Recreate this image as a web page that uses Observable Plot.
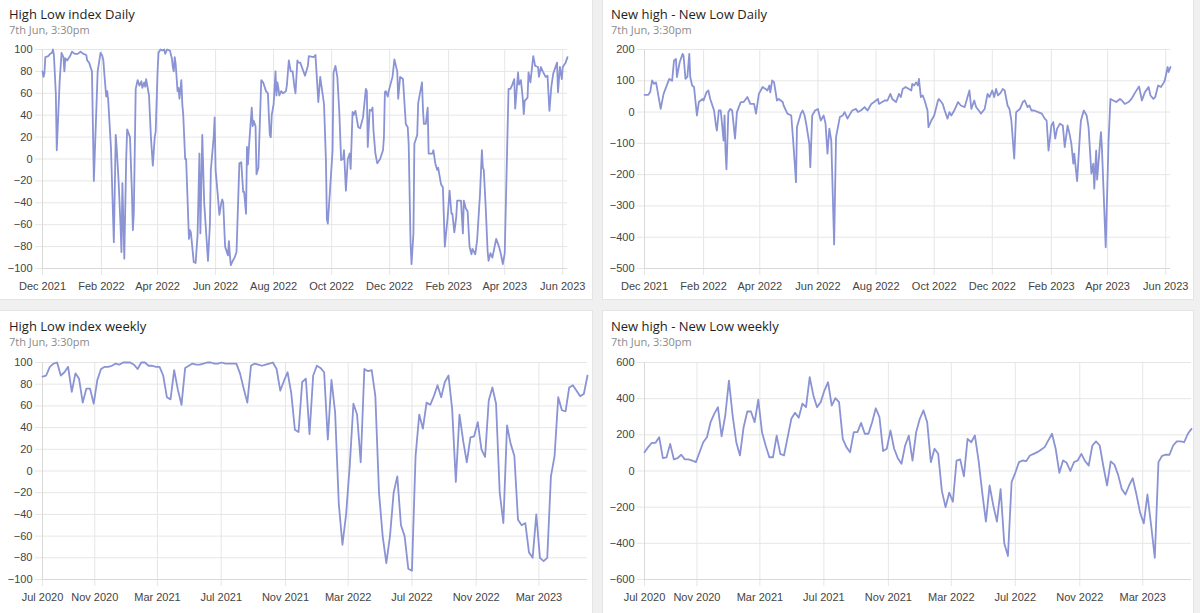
<!DOCTYPE html>
<html><head><meta charset="utf-8">
<script src="https://cdn.jsdelivr.net/npm/d3@7"></script>
<script src="https://cdn.jsdelivr.net/npm/@observablehq/plot@0.6"></script>
<style>
html,body{margin:0;padding:0;}
body{width:1200px;height:613px;overflow:hidden;background:#f0f0f0;position:relative;}
.card{position:absolute;background:#fff;border:1px solid #e4e4e4;box-sizing:border-box;}
.title{position:absolute;font-family:"Open Sans",sans-serif;font-size:13px;line-height:18px;color:#1e1e1e;white-space:nowrap;}
.sub{position:absolute;font-family:"Open Sans",sans-serif;font-size:11px;line-height:14px;color:#8a8a8a;white-space:nowrap;}
.chart{position:absolute;}
.chart svg{display:block;}
</style></head><body>
<div class="card" style="left:-1px;top:-3px;width:594px;height:303px"></div>
<div class="card" style="left:602px;top:-3px;width:592px;height:303px"></div>
<div class="card" style="left:-1px;top:310px;width:594px;height:320px"></div>
<div class="card" style="left:602px;top:310px;width:592px;height:320px"></div>

<div class="title" style="left:9px;top:5px">High Low index Daily</div>
<div class="sub" style="left:9px;top:23px">7th Jun, 3:30pm</div>
<div class="title" style="left:611px;top:5px">New high - New Low Daily</div>
<div class="sub" style="left:611px;top:23px">7th Jun, 3:30pm</div>
<div class="title" style="left:9px;top:317px">High Low index weekly</div>
<div class="sub" style="left:9px;top:335px">7th Jun, 3:30pm</div>
<div class="title" style="left:611px;top:317px">New high - New Low weekly</div>
<div class="sub" style="left:611px;top:335px">7th Jun, 3:30pm</div>

<div id="c1" class="chart" style="left:0px;top:39px"></div>
<div id="c2" class="chart" style="left:602px;top:39px"></div>
<div id="c3" class="chart" style="left:0px;top:352px"></div>
<div id="c4" class="chart" style="left:602px;top:352px"></div>

<script>
// ---------------- data ----------------
const hlDaily = [
["2021-12-01",80],["2021-12-02",75],["2021-12-03",78],["2021-12-04",93],["2021-12-07",94],["2021-12-09",96],["2021-12-11",97],["2021-12-12",100],["2021-12-13",95],["2021-12-15",60],["2021-12-16",8],["2021-12-19",70],["2021-12-21",97],["2021-12-23",93],["2021-12-24",80],["2021-12-25",92],["2021-12-27",90],["2021-12-30",94],
["2022-01-01",98],["2022-01-04",96],["2022-01-07",96],["2022-01-10",98],["2022-01-13",96],["2022-01-16",95],["2022-01-17",90],["2022-01-19",88],["2022-01-22",80],["2022-01-24",-20],["2022-01-28",80],["2022-01-31",97],
["2022-02-02",94],["2022-02-03",90],["2022-02-04",78],["2022-02-06",57],["2022-02-07",62],["2022-02-08",55],["2022-02-11",10],["2022-02-14",-76],["2022-02-16",22],["2022-02-17",10],["2022-02-19",-20],["2022-02-21",-60],["2022-02-22",-85],["2022-02-23",-22],["2022-02-25",-91],["2022-02-27",0],["2022-02-28",27],
["2022-03-03",20],["2022-03-05",-30],["2022-03-06",-65],["2022-03-07",-50],["2022-03-09",64],["2022-03-11",72],["2022-03-13",67],["2022-03-15",71],["2022-03-16",65],["2022-03-18",70],["2022-03-19",66],["2022-03-20",73],["2022-03-23",58],["2022-03-25",20],["2022-03-27",-6],["2022-03-29",20],["2022-03-30",25],
["2022-04-01",80],["2022-04-02",97],["2022-04-04",100],["2022-04-06",99],["2022-04-08",100],["2022-04-09",96],["2022-04-11",100],["2022-04-14",99],["2022-04-16",92],["2022-04-17",84],["2022-04-18",80],["2022-04-19",93],["2022-04-20",87],["2022-04-22",62],["2022-04-23",65],["2022-04-24",55],["2022-04-26",72],["2022-04-27",50],["2022-04-28",40],["2022-04-30",0],
["2022-05-01",0],["2022-05-04",-73],["2022-05-05",-65],["2022-05-06",-67],["2022-05-08",-85],["2022-05-09",-94],["2022-05-11",-95],["2022-05-13",-70],["2022-05-15",5],["2022-05-16",-68],["2022-05-18",22],["2022-05-20",-40],["2022-05-24",-93],["2022-05-26",-60],["2022-05-27",-10],["2022-05-28",0],["2022-05-30",20],["2022-05-31",38],
["2022-06-01",-10],["2022-06-03",-30],["2022-06-05",-51],["2022-06-07",-40],["2022-06-08",-37],["2022-06-09",-40],["2022-06-11",-80],["2022-06-14",-88],["2022-06-15",-75],["2022-06-16",-88],["2022-06-17",-97],["2022-06-19",-93],["2022-06-21",-90],["2022-06-23",-85],["2022-06-26",-4],["2022-06-28",-3],["2022-06-30",-30],
["2022-07-01",-30],["2022-07-03",-50],["2022-07-04",11],["2022-07-05",-5],["2022-07-06",10],["2022-07-09",47],["2022-07-10",30],["2022-07-11",35],["2022-07-13",30],["2022-07-14",-14],["2022-07-16",-8],["2022-07-19",72],["2022-07-21",70],["2022-07-24",62],["2022-07-26",60],["2022-07-27",40],["2022-07-28",22],["2022-07-29",20],["2022-07-30",40],
["2022-08-01",50],["2022-08-03",80],["2022-08-04",58],["2022-08-05",70],["2022-08-06",65],["2022-08-07",58],["2022-08-09",62],["2022-08-11",60],["2022-08-14",62],["2022-08-15",68],["2022-08-17",90],["2022-08-19",80],["2022-08-21",80],["2022-08-23",65],["2022-08-24",60],["2022-08-26",90],["2022-08-27",88],["2022-08-29",88],
["2022-09-03",76],["2022-09-06",85],["2022-09-07",94],["2022-09-12",93],["2022-09-14",95],["2022-09-17",52],["2022-09-19",75],["2022-09-23",50],["2022-09-25",-1],["2022-09-26",-55],["2022-09-27",-59],
["2022-10-02",8],["2022-10-03",79],["2022-10-05",85],["2022-10-07",75],["2022-10-09",44],["2022-10-11",-1],["2022-10-13",0],["2022-10-14",8],["2022-10-16",-29],["2022-10-18",0],["2022-10-20",5],["2022-10-21",-9],["2022-10-23",43],["2022-10-24",40],["2022-10-26",44],["2022-10-29",29],["2022-10-31",28],
["2022-11-03",38],["2022-11-06",64],["2022-11-07",62],["2022-11-08",11],["2022-11-10",45],["2022-11-12",44],["2022-11-13",47],["2022-11-14",26],["2022-11-16",5],["2022-11-18",-4],["2022-11-21",0],["2022-11-24",8],["2022-11-25",20],["2022-11-26",61],["2022-11-27",62],["2022-11-29",57],["2022-11-30",62],
["2022-12-04",75],["2022-12-06",91],["2022-12-09",80],["2022-12-10",55],["2022-12-12",75],["2022-12-15",73],["2022-12-18",32],["2022-12-20",29],["2022-12-21",14],["2022-12-23",-77],["2022-12-24",-96],["2022-12-26",-68],["2022-12-27",14],["2022-12-30",22],["2022-12-31",51],
["2023-01-04",70],["2023-01-05",46],["2023-01-06",32],["2023-01-08",32],["2023-01-10",47],["2023-01-11",5],["2023-01-15",5],["2023-01-16",8],["2023-01-18",-4],["2023-01-20",-10],["2023-01-21",-8],["2023-01-24",-23],["2023-01-26",-26],["2023-01-27",-53],["2023-01-28",-80],["2023-01-31",-53],
["2023-02-02",-29],["2023-02-04",-50],["2023-02-05",-50],["2023-02-07",-67],["2023-02-09",-53],["2023-02-10",-38],["2023-02-14",-38],["2023-02-16",-68],["2023-02-17",-38],["2023-02-19",-45],["2023-02-21",-48],["2023-02-23",-80],["2023-02-25",-87],["2023-02-26",-82],
["2023-03-01",-87],["2023-03-03",-74],["2023-03-06",-32],["2023-03-08",8],["2023-03-09",-8],["2023-03-10",-10],["2023-03-12",-44],["2023-03-14",-84],["2023-03-15",-93],["2023-03-17",-86],["2023-03-19",-90],["2023-03-20",-86],["2023-03-23",-73],["2023-03-26",-80],["2023-03-28",-87],["2023-03-30",-96],
["2023-04-01",-86],["2023-04-05",64],["2023-04-07",64],["2023-04-09",68],["2023-04-11",73],["2023-04-12",46],["2023-04-15",79],["2023-04-16",68],["2023-04-18",72],["2023-04-20",55],["2023-04-21",41],["2023-04-22",53],["2023-04-25",56],["2023-04-26",79],["2023-04-28",70],
["2023-05-01",94],["2023-05-03",85],["2023-05-06",84],["2023-05-07",75],["2023-05-09",84],["2023-05-11",80],["2023-05-14",75],["2023-05-16",76],["2023-05-18",44],["2023-05-20",66],["2023-05-22",78],["2023-05-26",88],["2023-05-27",61],["2023-05-29",84],["2023-05-31",73],
["2023-06-01",84],["2023-06-04",88],["2023-06-06",93]
];

const nhnlDaily = [
["2021-12-01",55],["2021-12-05",55],["2021-12-07",64],["2021-12-09",101],["2021-12-11",90],["2021-12-13",95],["2021-12-14",80],["2021-12-18",10],["2021-12-21",58],["2021-12-23",74],["2021-12-27",106],["2021-12-30",100],
["2022-01-01",165],["2022-01-03",170],["2022-01-04",112],["2022-01-07",160],["2022-01-10",186],["2022-01-11",180],["2022-01-13",106],["2022-01-15",113],["2022-01-17",186],["2022-01-18",112],["2022-01-20",85],["2022-01-22",80],["2022-01-25",-11],["2022-01-27",32],["2022-01-31",42],
["2022-02-01",37],["2022-02-04",63],["2022-02-06",69],["2022-02-08",42],["2022-02-12",5],["2022-02-14",-43],["2022-02-15",-59],["2022-02-17",5],["2022-02-19",5],["2022-02-22",-91],["2022-02-23",-11],["2022-02-24",-123],["2022-02-25",-183],["2022-02-27",0],
["2022-03-01",10],["2022-03-03",5],["2022-03-06",-85],["2022-03-08",0],["2022-03-12",32],["2022-03-15",32],["2022-03-19",48],["2022-03-22",26],["2022-03-26",26],["2022-03-28",-5],["2022-03-31",58],
["2022-04-04",80],["2022-04-07",74],["2022-04-09",69],["2022-04-11",85],["2022-04-12",63],["2022-04-14",101],["2022-04-16",95],["2022-04-19",37],["2022-04-21",42],["2022-04-25",32],["2022-04-26",21],["2022-04-30",-5],
["2022-05-04",-11],["2022-05-06",-91],["2022-05-09",-224],["2022-05-10",-48],["2022-05-14",-5],["2022-05-16",5],["2022-05-18",-11],["2022-05-20",-43],["2022-05-23",-102],["2022-05-24",-176],["2022-05-26",-11],["2022-05-29",5],
["2022-06-01",10],["2022-06-04",-27],["2022-06-07",-11],["2022-06-09",-37],["2022-06-11",-133],["2022-06-13",-53],["2022-06-15",-91],["2022-06-18",-423],["2022-06-20",-80],["2022-06-22",-48],["2022-06-24",-16],["2022-06-27",-11],["2022-06-29",0],
["2022-07-02",-21],["2022-07-05",-5],["2022-07-07",5],["2022-07-11",10],["2022-07-13",0],["2022-07-16",5],["2022-07-20",16],["2022-07-23",5],["2022-07-27",26],["2022-07-30",32],
["2022-08-03",42],["2022-08-04",26],["2022-08-10",37],["2022-08-13",37],["2022-08-16",58],["2022-08-18",42],["2022-08-22",32],["2022-08-25",58],["2022-08-27",48],["2022-08-29",74],
["2022-09-01",80],["2022-09-07",69],["2022-09-08",90],["2022-09-10",85],["2022-09-12",95],["2022-09-14",85],["2022-09-15",106],["2022-09-17",48],["2022-09-19",53],["2022-09-21",37],["2022-09-24",5],["2022-09-25",-48],["2022-09-28",-27],
["2022-10-01",-11],["2022-10-05",37],["2022-10-06",42],["2022-10-10",26],["2022-10-12",5],["2022-10-15",-21],["2022-10-17",0],["2022-10-19",-11],["2022-10-22",5],["2022-10-26",32],["2022-10-29",21],
["2022-11-02",16],["2022-11-05",48],["2022-11-07",69],["2022-11-09",10],["2022-11-12",37],["2022-11-14",16],["2022-11-18",0],["2022-11-19",-5],["2022-11-23",10],["2022-11-26",58],["2022-11-28",48],
["2022-12-01",69],["2022-12-03",48],["2022-12-05",74],["2022-12-07",53],["2022-12-10",63],["2022-12-12",74],["2022-12-14",69],["2022-12-17",21],["2022-12-19",10],["2022-12-21",-27],["2022-12-24",-149],["2022-12-26",0],["2022-12-30",10],
["2023-01-02",32],["2023-01-04",37],["2023-01-07",16],["2023-01-09",21],["2023-01-11",5],["2023-01-14",5],["2023-01-18",0],["2023-01-22",-5],["2023-01-25",-21],["2023-01-27",-27],["2023-01-29",-123],
["2023-02-01",-43],["2023-02-03",-32],["2023-02-05",-85],["2023-02-07",-53],["2023-02-10",-37],["2023-02-13",-43],["2023-02-15",-112],["2023-02-18",-43],["2023-02-20",-69],["2023-02-22",-102],["2023-02-24",-165],["2023-02-25",-133],["2023-02-28",-221],
["2023-03-03",-69],["2023-03-04",-27],["2023-03-07",5],["2023-03-10",-11],["2023-03-12",-48],["2023-03-15",-197],["2023-03-17",-165],["2023-03-18",-245],["2023-03-20",-123],["2023-03-21",-216],["2023-03-25",-64],["2023-03-26",-112],["2023-03-30",-432],
["2023-04-02",-91],["2023-04-04",42],["2023-04-07",37],["2023-04-10",32],["2023-04-14",42],["2023-04-16",37],["2023-04-19",26],["2023-04-23",32],["2023-04-26",42],["2023-04-30",63],
["2023-05-04",82],["2023-05-07",37],["2023-05-10",63],["2023-05-14",80],["2023-05-16",53],["2023-05-19",42],["2023-05-21",48],["2023-05-24",85],["2023-05-27",80],["2023-05-30",95],["2023-05-31",101],
["2023-06-03",144],["2023-06-04",128],["2023-06-06",144]
];

const weeklyDates = [
"2020-07-24","2020-07-31","2020-08-07","2020-08-14","2020-08-21","2020-08-28","2020-09-04","2020-09-11","2020-09-18","2020-09-25",
"2020-10-02","2020-10-09","2020-10-16","2020-10-23","2020-10-30","2020-11-06","2020-11-13","2020-11-20","2020-11-27","2020-12-04",
"2020-12-11","2020-12-18","2020-12-25","2021-01-01","2021-01-08","2021-01-15","2021-01-22","2021-01-29","2021-02-05","2021-02-12",
"2021-02-19","2021-02-26","2021-03-05","2021-03-12","2021-03-19","2021-03-26","2021-04-02","2021-04-09","2021-04-16","2021-04-23",
"2021-04-30","2021-05-07","2021-05-14","2021-05-21","2021-05-28","2021-06-04","2021-06-11","2021-06-18","2021-06-25","2021-07-02",
"2021-07-09","2021-07-16","2021-07-23","2021-07-30","2021-08-06","2021-08-13","2021-08-20","2021-08-27","2021-09-03","2021-09-10",
"2021-09-17","2021-09-24","2021-10-01","2021-10-08","2021-10-15","2021-10-22","2021-10-29","2021-11-05","2021-11-12","2021-11-19",
"2021-11-26","2021-12-03","2021-12-10","2021-12-17","2021-12-24","2021-12-31","2022-01-07","2022-01-14","2022-01-21","2022-01-28",
"2022-02-04","2022-02-11","2022-02-18","2022-02-25","2022-03-04","2022-03-11","2022-03-18","2022-03-25","2022-04-01","2022-04-08",
"2022-04-15","2022-04-22","2022-04-29","2022-05-06","2022-05-13","2022-05-20","2022-05-27","2022-06-03","2022-06-10","2022-06-17",
"2022-06-24","2022-07-01","2022-07-08","2022-07-15","2022-07-22","2022-07-29","2022-08-05","2022-08-12","2022-08-19","2022-08-26",
"2022-09-02","2022-09-09","2022-09-16","2022-09-23","2022-09-30","2022-10-07","2022-10-14","2022-10-21","2022-10-28","2022-11-04",
"2022-11-11","2022-11-18","2022-11-25","2022-12-02","2022-12-09","2022-12-16","2022-12-23","2022-12-30","2023-01-06","2023-01-13",
"2023-01-20","2023-01-27","2023-02-03","2023-02-10","2023-02-17","2023-02-24","2023-03-03","2023-03-10","2023-03-17","2023-03-24",
"2023-03-31","2023-04-07","2023-04-14","2023-04-21","2023-04-28","2023-05-05","2023-05-12","2023-05-19","2023-05-26","2023-06-02"
];

const hlWeekly = [
87,88,96,99,100,88,91,96,73,90,
85,63,76,76,62,84,94,96,96,97,
99,98,100,100,100,98,94,100,100,97,
97,96,96,88,68,66,93,75,61,95,
97,99,98,98,99,100,100,99,99,100,
99,99,99,99,90,76,63,97,99,98,
97,98,99,100,94,74,83,91,72,38,
36,82,85,34,88,97,95,91,29,84,
54,-30,-68,-40,5,62,52,8,94,92,
93,69,-20,-60,-85,-60,-20,-5,-50,-60,
-90,-92,14,52,39,63,61,69,79,68,
82,88,57,-10,52,28,8,31,32,45,
20,13,65,77,62,-20,-48,42,25,14,
-45,-50,-48,-75,-80,-40,-80,-83,-80,-5,
14,68,56,55,77,79,74,69,71,88
];

const nhnlWeekly = [
104,132,156,156,187,71,76,150,64,71,
90,64,64,58,49,104,159,187,270,316,
353,191,307,500,307,159,86,242,329,329,
270,394,215,141,76,76,196,95,86,187,
289,322,294,372,353,519,418,353,381,445,
491,362,403,381,178,132,104,215,215,266,
206,206,270,347,298,110,123,224,123,71,
40,141,196,58,215,289,335,270,49,123,
95,-110,-200,-120,-170,58,64,-30,178,159,
196,58,-120,-280,-80,-190,-280,-100,-400,-470,
-60,-10,49,58,55,86,95,104,118,132,
169,206,123,-10,58,45,0,49,58,95,
55,30,141,164,141,25,-80,53,35,-20,
-100,-130,-80,-40,-130,-230,-290,-130,-300,-480,
49,84,90,90,141,164,164,159,206,233
];

const dailyTicks = ["2021-12-01","2022-02-01","2022-04-01","2022-06-01","2022-08-01","2022-10-01","2022-12-01","2023-02-01","2023-04-01","2023-06-01"];
const weeklyTicks = ["2020-07-24","2020-11-01","2021-03-01","2021-07-01","2021-11-01","2022-03-01","2022-07-01","2022-11-01","2023-03-01"];
const dailyRange = ["2021-12-01","2023-06-06"];
const weeklyRange = ["2020-07-24","2023-06-02"];
const hlTicks = [-100,-80,-60,-40,-20,0,20,40,60,80,100];
const nhnlDailyTicks = [-500,-400,-300,-200,-100,0,100,200];
const nhnlWeeklyTicks = [-600,-400,-200,0,200,400,600];

// ---------------- drawing ----------------
const LINE = "#8a93d4";
const GRID = "#e6e6e6";
const AXIS = "#d9d9d9";

function draw(id, rows, xRange, xTicks, yTicks, w, h, mr, plotH) {
  const data = rows.map(([d, v]) => ({date: new Date(d), value: v}));
  const xt = xTicks.map(d => new Date(d));
  const yDom = [yTicks[0], yTicks[yTicks.length - 1]];
  const chart = Plot.plot({
    width: w, height: h,
    marginLeft: 42, marginRight: mr, marginTop: 10, marginBottom: h - 10 - plotH,
    style: {fontFamily: "'Liberation Sans', Arial, sans-serif", fontSize: "11px", color: "#444", background: "transparent", overflow: "visible"},
    x: {type: "utc", domain: xRange.map(d => new Date(d)), label: null},
    y: {domain: yDom, label: null},
    marks: [
      Plot.ruleY(yTicks, {stroke: GRID, insetLeft: -7}),
      Plot.ruleX(xt, {stroke: GRID, insetBottom: -7}),
      Plot.ruleY([yDom[0]], {stroke: AXIS}),
      Plot.ruleX([xt[0]], {stroke: AXIS}),
      Plot.axisY(yTicks, {tickSize: 0, tickPadding: 10, label: null, color: "#444"}),
      Plot.axisX(xt, {tickSize: 0, tickPadding: 14, label: null, color: "#444", tickFormat: d3.utcFormat("%b %Y")}),
      Plot.line(data, {x: "date", y: "value", stroke: LINE, strokeWidth: 1.8, strokeLinejoin: "round"})
    ]
  });
  document.getElementById(id).appendChild(chart);
}

const weeklyHL = weeklyDates.map((d, i) => [d, hlWeekly[i]]);
const weeklyNHNL = weeklyDates.map((d, i) => [d, nhnlWeekly[i]]);

draw("c1", hlDaily, dailyRange, dailyTicks, hlTicks, 592, 261, 25, 219);
draw("c2", nhnlDaily, dailyRange, dailyTicks, nhnlDailyTicks, 591, 261, 23, 219);
draw("c3", weeklyHL, weeklyRange, weeklyTicks, hlTicks, 592, 259, 5, 217);
draw("c4", weeklyNHNL, weeklyRange, weeklyTicks, nhnlWeeklyTicks, 591, 259, 2, 217);
</script>
</body></html>
